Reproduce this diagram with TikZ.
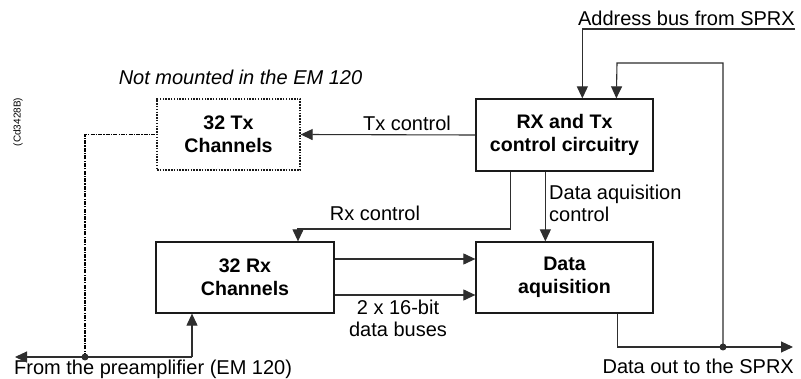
\documentclass[tikz,border=0pt]{standalone}
\usepackage{fontspec}
\setmainfont{Liberation Sans}
\usetikzlibrary{arrows.meta,calc}
\definecolor{ln}{HTML}{2E2E2E}
\definecolor{bx}{HTML}{1A1A1A}
\tikzset{
  blk/.style={draw=bx, line width=1.3pt, align=center, inner sep=0pt,
    font=\fontsize{19.6}{23}\selectfont\bfseries},
  txbox/.style={blk, dash pattern=on 1.5pt off 1.3pt},
  conn/.style={draw=ln, line width=1.1pt},
  arr/.style={conn, -{Triangle[length=12pt,width=11pt]}},
  lbl/.style={font=\fontsize{20}{22}\selectfont, inner sep=0pt, text=black, align=left},
  jdot/.style={fill=ln, circle, inner sep=0pt, minimum size=7pt},
}
\begin{document}
\begin{tikzpicture}[x=1pt,y=-1pt]
\useasboundingbox[fill=white] (0,0) rectangle (801,379);

% boxes
\node[txbox, minimum width=143pt, minimum height=71pt] (tx) at (228.5,134.5) {32 Tx\\Channels};
\node[blk, minimum width=177pt, minimum height=72pt] (ctrl) at (564.5,135) {RX and Tx\\control circuitry};
\node[blk, minimum width=178pt, minimum height=71pt] (rx) at (245,277.5) {32 Rx\\Channels};
\node[blk, minimum width=177pt, minimum height=71pt] (da) at (564.5,277.5) {Data\\aquisition};

% coordinates
\coordinate (addrR) at (795,29);
\coordinate (loopTop) at (617,63);
\coordinate (j2) at (723,347);
\coordinate (outR) at (793,347);
\coordinate (pinL) at (15,357);
\coordinate (pinR) at (192,357);
\coordinate (j1) at (85,357);
\coordinate (rxc) at (298,229);

% labels
\node[lbl, anchor=south east] (addrlbl) at (795,25.5) {Address bus from SPRX};
\node[lbl, font=\fontsize{20}{22}\selectfont\itshape, anchor=base] (nm) at (240.5,85) {Not mounted in the EM 120};
\node[lbl, font=\fontsize{10}{12}\selectfont, rotate=90] (code) at (18,122) {(Cd3428B)};
\node[lbl, anchor=base] (txl) at (407,131) {Tx control};
\node[lbl, anchor=base] (rxl) at (375,221) {Rx control};
\node[lbl, anchor=north west, align=left] (dacl) at (549,185) {Data aquisition\\control};
\node[lbl, anchor=north, align=center] (busl) at (398,300) {2 x 16-bit\\data buses};
\node[lbl, anchor=north west] (prel) at (14,360) {From the preamplifier (EM 120)};
\node[lbl, anchor=north east] (outl) at (794,359) {Data out to the SPRX};

% connectors
\draw[arr] (addrR) -| ([xshift=107pt]ctrl.north west);
\draw[arr] (j2) |- (loopTop) -- ([xshift=141pt]ctrl.north west);
\draw[arr] (ctrl.west) -- (tx.east);
\draw[arr] ([xshift=35pt]ctrl.south west) |- (rxc) -- (rxc |- rx.north);
\draw[arr] ([xshift=70pt]ctrl.south west) -- ([xshift=70pt]da.north west);
\draw[arr] ([yshift=18.5pt]rx.east) -- ([yshift=18.5pt]da.west);
\draw[arr] ([yshift=-17.5pt]rx.east) -- ([yshift=-17.5pt]da.west);
\draw[arr] ([xshift=142pt]da.south west) |- (outR);
\draw[arr] (pinR) -- (pinL);
\draw[arr] (pinR) -- (pinR |- rx.south);
\draw[draw=black, line width=1.4pt, dash pattern=on 4pt off 1.2pt on 1.2pt off 1.2pt] (j1) |- (tx.west);
\node[jdot] (d1) at (j1) {};
\node[jdot] (d2) at (j2) {};
\end{tikzpicture}
\end{document}
